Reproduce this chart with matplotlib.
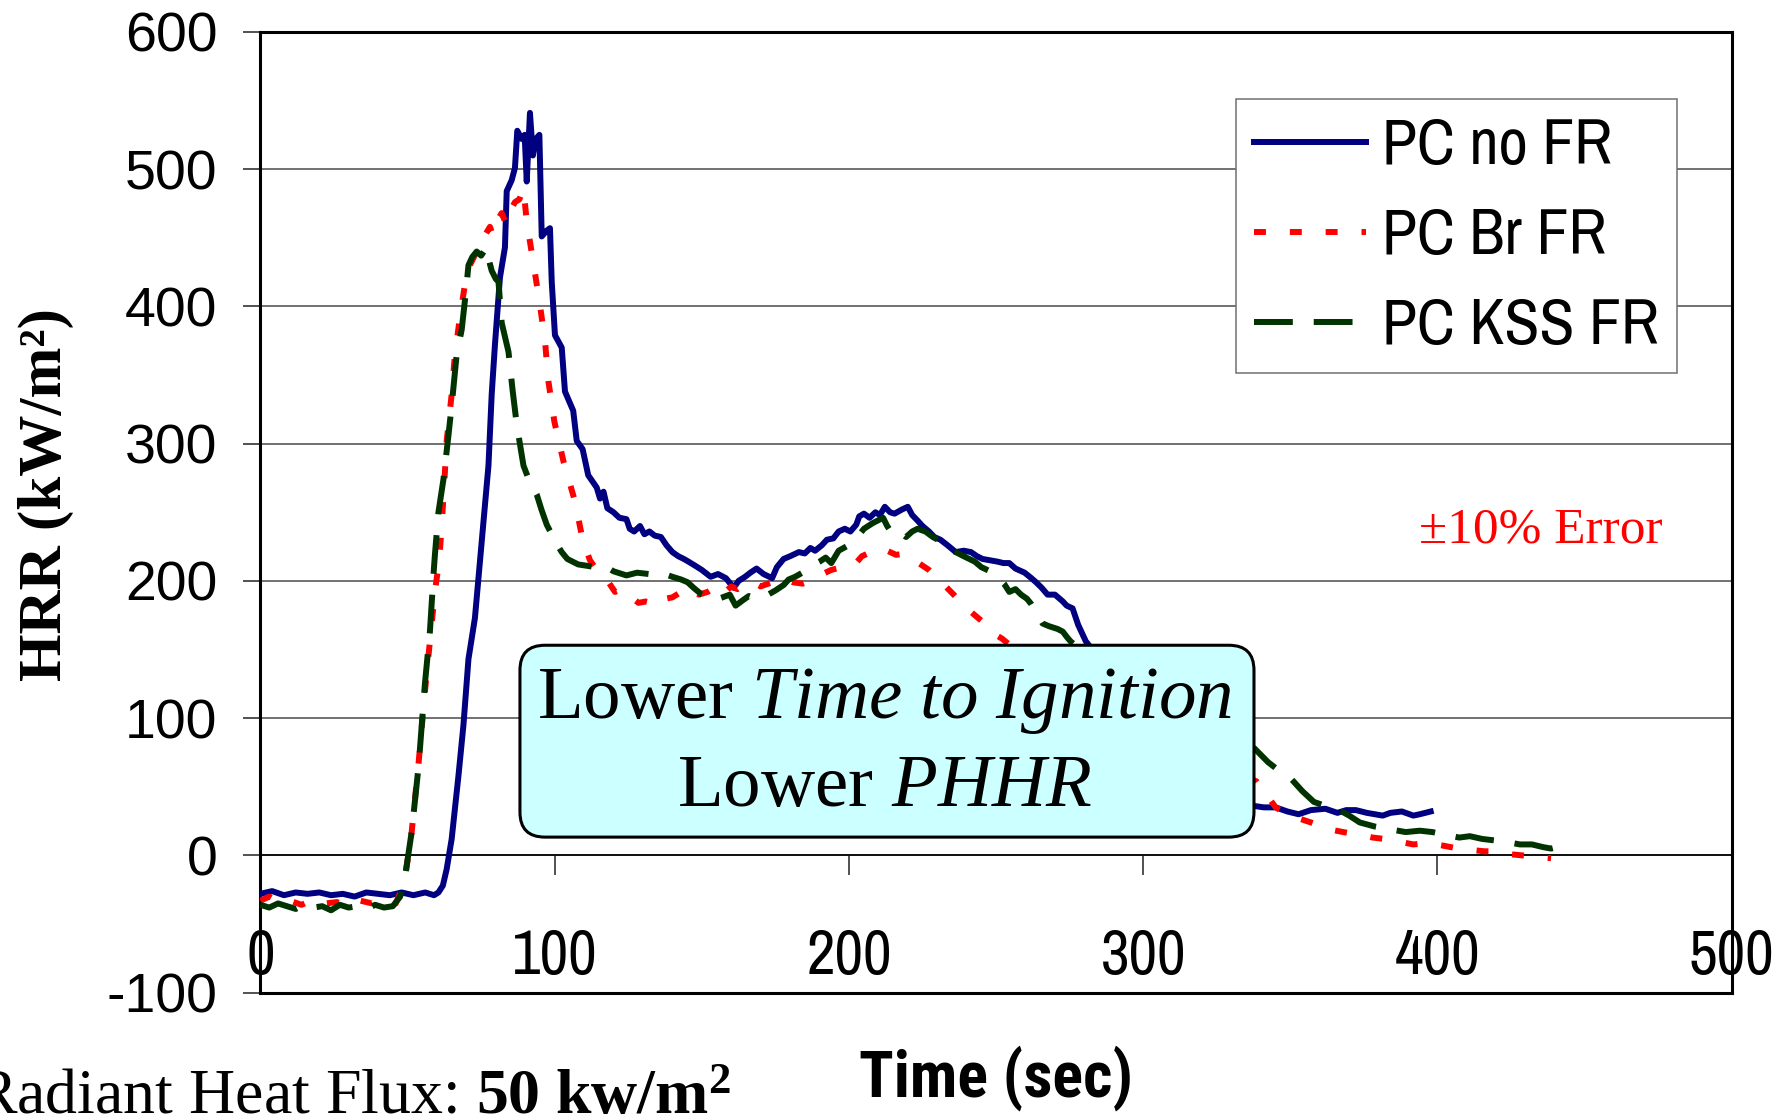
import matplotlib
matplotlib.use("Agg")
import matplotlib.pyplot as plt
from matplotlib import font_manager
from matplotlib.patches import FancyBboxPatch

# HRR curves (time in s, HRR in kW/m2)
nofr_t = [0, 4, 8, 12, 16, 20, 24, 28, 32, 36, 40, 44, 48, 52, 56, 59, 60.5, 62, 63.3, 65,
          67.3, 69, 70.7, 72.9, 74.6, 75.8, 77.5, 78.6, 79.7, 81.4, 83.1, 83.7, 85.4, 86.5, 87.3,
          88.8, 89.8, 90.5, 91.6, 92.6, 93.6, 94.8, 95.6, 97.2, 98.4, 99.0, 100.1, 102.4, 103.5,
          106.3, 107.5, 109.5, 111.4, 113, 114.3, 115.4, 116.6, 117.9, 120, 122, 124.4, 125.5,
          127, 129, 130.5, 132.2, 134, 136.1, 138, 140, 142, 143.9, 145.5, 147.8, 150, 153,
          155.5, 158.2, 160.8, 162.5, 164.7, 166.5, 168.6, 171, 173.9, 175.5, 177.8, 180, 183,
          185, 186.9, 188.5, 190.8, 192.5, 194.7, 196.5, 198.6, 200.5, 202.5, 203.5, 205.1,
          207, 209, 210.5, 212.2, 214, 215.5, 218, 220, 221.5, 223.3, 225, 227.2, 229, 231.1,
          233.5, 236.3, 239, 241.5, 243.5, 245.4, 248, 250.6, 252.5, 254.5, 256.6, 259.7, 262,
          263.6, 265.5, 267.5, 270, 272.7, 274, 276, 277.9, 279, 280.5, 290, 300, 310, 320, 330,
          337.8, 341, 345, 349, 352.8, 357, 361.9, 366, 369, 372.3, 376, 381.4, 384, 387.9,
          391.8, 394, 397.7]
nofr_v = [-28, -26, -29, -27, -28, -27, -29, -28, -30, -27, -28, -29, -27, -29, -27, -29, -27,
          -22, -10, 12, 58, 95, 143, 173, 214, 243, 284, 336, 372, 421, 443, 484, 492, 501, 528,
          522, 525, 491, 541, 510, 522, 525, 451, 455, 457, 418, 379, 370, 338, 324, 302, 296,
          277, 272, 268, 260, 265, 253, 250, 246, 245, 238, 236, 240, 234, 236, 233, 232, 226,
          221, 218, 216, 214, 211, 208, 203, 205, 202, 195, 200, 203, 206, 209, 205, 202, 210,
          216, 218, 221, 220, 224, 222, 226, 230, 231, 236, 238, 236, 241, 247, 249, 246, 250,
          248, 254, 250, 249, 252, 254, 248, 244, 240, 236, 232, 230, 226, 221, 222, 221, 218,
          216, 215, 214, 213, 213, 209, 206, 202, 199, 195, 190, 190, 185, 182, 180, 168, 163,
          156, 130, 102, 76, 56, 43, 36, 35, 35, 32, 30, 33, 34, 31, 33, 33, 31, 29, 31, 32, 29,
          30, 32]

br_t = [0, 3, 6, 10, 14, 18, 22, 26, 30, 34, 38, 42, 46, 48.9, 51.4, 53.7, 55.9, 57.6, 59.3,
        60.8, 61.6, 62.5, 63.3, 65, 66.1, 67.8, 69.5, 71.2, 74.6, 76.9, 78, 79, 80.3, 82, 83.5,
        85, 86.5, 88, 89.4, 90.5, 92.8, 94.8, 96.7, 97.9, 99.9, 103, 106.9, 109.5, 112, 115.3,
        118, 120.5, 123.1, 126, 128.5, 130.9, 133, 135, 137.4, 140, 143, 146.5, 149, 152, 155.6,
        158, 160, 162.1, 164.5, 167.3, 170, 173.9, 176, 178.4, 181, 184.3, 187, 190, 194, 197.5,
        201.2, 204.4, 207.5, 210.9, 213, 216, 219.4, 223, 227.2, 231, 235.6, 239, 242.8, 245,
        248, 252, 265, 280, 295, 310, 325, 338.5, 342, 345, 349, 352.8, 357, 363.2, 368, 373.6,
        378, 382, 387, 391.8, 397, 402.2, 407, 411.3, 416, 419.8, 424, 428.9, 433, 438.6]
br_v = [-33, -30, -34, -33, -36, -32, -35, -34, -37, -33, -35, -32, -35, -20, 17, 66, 119, 156,
        192, 216, 240, 272, 302, 336, 365, 392, 416, 430, 445, 454, 458, 452, 462, 468, 460, 470,
        476, 478, 486, 462, 431, 404, 375, 345, 316, 287, 258, 230, 215, 205, 200, 192, 194, 188,
        184, 185, 184, 182, 187, 188, 192, 195, 190, 192, 197, 192, 196, 194, 198, 199, 196, 199,
        198, 201, 199, 198, 200, 204, 208, 210, 210, 218, 221, 224, 222, 219, 220, 214, 208, 200,
        190, 182, 175, 171, 163, 158, 135, 115, 95, 80, 65, 54, 44, 35, 30, 27, 24, 19, 17, 15,
        13, 12, 10, 8, 9, 7, 5, 4, 3, 3, 1, 0, -1, -2]

kss_t = [0, 3, 6, 9, 12, 15, 18, 21, 24, 27, 30, 33, 36, 39, 42, 45, 47.5, 48.9, 51.4, 53.8,
         55.9, 57.6, 58.8, 59.3, 60.5, 62.2, 63.9, 65.1, 66.7, 68.4, 69.9, 70.7, 72, 73.5, 75,
         76.9, 77.5, 78.6, 80, 80.9, 82, 84.3, 85.7, 87.1, 89.4, 91, 93.9, 95.5, 97.3, 98.5, 99.5,
         100.4, 102.4, 104.3, 105.2, 108, 111, 114, 117, 120, 124.4, 128, 132, 136.1, 140, 143,
         145.2, 147.2, 150, 154.3, 157, 159.5, 161.5, 164, 166, 168.6, 170.5, 172.5, 175, 177.8,
         179.5, 181.7, 185, 188.2, 190, 192.1, 194, 196.5, 199.9, 202.5, 205.1, 208, 211.6, 213,
         214.8, 217, 219.4, 221.5, 223.3, 226, 228.5, 231.1, 233.5, 236.3, 239, 242.8, 245, 248,
         250.5, 252.7, 254.5, 256.6, 258.5, 260.5, 262, 265.8, 268, 270.9, 272.7, 274.1, 275.3,
         290, 305, 320, 330, 337.8, 342.4, 346, 350.2, 354, 358, 362, 365.8, 370, 373.6, 378.8,
         384, 389.2, 394, 398.3, 403, 407.4, 411, 415.2, 419, 423, 428, 432.1, 436, 438.6, 442.5]
kss_v = [-36, -38, -35, -37, -39, -36, -38, -37, -40, -36, -38, -37, -39, -36, -38, -37, -30,
         -19, 17, 66, 125, 163, 204, 219, 250, 274, 306, 330, 365, 383, 412, 430, 436, 440, 437,
         443, 435, 426, 420, 418, 388, 367, 339, 314, 284, 275, 263, 252, 241, 236, 229, 228, 221,
         216, 215, 212, 211, 210, 211, 207, 204, 206, 205, 206, 203, 201, 199, 195, 190, 186, 188,
         190, 182, 186, 189, 187, 188, 190, 193, 197, 201, 203, 207, 212, 214, 217, 213, 222, 226,
         231, 238, 242, 246, 240, 234, 236, 232, 236, 238, 236, 232, 229, 224, 221, 218, 214, 210,
         207, 203, 198, 192, 194, 190, 187, 183, 169, 167, 165, 163, 159, 156, 130, 112, 96, 86,
         78, 68, 62, 56, 47, 39, 36, 34, 29, 24, 21, 19, 17, 18, 17, 15, 13, 14, 12, 11, 10, 8, 8,
         6, 5, 7]

series_labels = ["PC no FR", "PC Br FR", "PC KSS FR"]
x_ticks = [0, 100, 200, 300, 400, 500]
y_ticks = [-100, 0, 100, 200, 300, 400, 500, 600]


def pick_font(prefs, bold=False):
    for name in prefs:
        for f in font_manager.fontManager.ttflist:
            if f.name == name and (not bold or f.weight in (700, "bold")):
                return name
    return "Liberation Sans"


narrow = pick_font(["Liberation Sans Narrow", "Archivo Narrow", "Roboto Condensed"])
narrow_bold = pick_font(["Liberation Sans Narrow", "Roboto Condensed", "Asap Condensed",
                         "Fira Sans Condensed"], bold=True)

plt.rcParams["axes.unicode_minus"] = False
plt.rcParams["mathtext.fontset"] = "custom"
plt.rcParams["mathtext.rm"] = "Liberation Serif"
plt.rcParams["mathtext.it"] = "Liberation Serif:italic"
plt.rcParams["mathtext.bf"] = "Liberation Serif:bold"

fig = plt.figure(figsize=(17.91, 11.2), dpi=100)
ax = fig.add_axes([0.1454, 0.1137, 0.8215, 0.8578])

ax.plot(nofr_t, nofr_v, color="#000080", lw=4.3, label=series_labels[0], zorder=3)
ax.plot(br_t, br_v, color="#ff0000", lw=4.3, dashes=(2.0, 4.0), label=series_labels[1], zorder=4)
ax.plot(kss_t, kss_v, color="#003300", lw=4.3, dashes=(6.5, 3.5), label=series_labels[2], zorder=5)

ax.set_xlim(0, 500)
ax.set_ylim(-100, 600)
ax.set_xticks(x_ticks)
ax.set_yticks(y_ticks)
ax.yaxis.grid(True, color="#666666", lw=1.3)
ax.set_axisbelow(True)

for s in ["left", "right", "top"]:
    ax.spines[s].set_linewidth(2.2)
    ax.spines[s].set_color("black")
ax.spines["bottom"].set_position(("data", 0))
ax.spines["bottom"].set_linewidth(1.2)
ax.axhline(-100, color="black", lw=2.2, clip_on=False, zorder=6)

ax.tick_params(axis="x", direction="out", length=14.4, width=1.2, color="#333333", pad=38)
ax.tick_params(axis="y", direction="out", length=12, width=1.2, color="#333333", pad=19)
for lab in ax.get_xticklabels():
    lab.set_fontfamily(narrow)
    lab.set_fontsize(45)
for lab in ax.get_yticklabels():
    lab.set_fontfamily("Liberation Sans")
    lab.set_fontsize(40)

leg = ax.legend(loc="upper right", bbox_to_anchor=(0.9626, 0.930), borderaxespad=0,
                prop=dict(family=narrow, size=46), handlelength=1.75, handletextpad=0.25,
                labelspacing=0.5, borderpad=0.28, fancybox=False, framealpha=1)
leg.get_frame().set_edgecolor("#707070")
leg.get_frame().set_linewidth(1.1)

box = FancyBboxPatch((0.1764, 0.1619), 0.6753 - 0.1764, 0.3616 - 0.1619,
                     boxstyle="round,pad=0,rounding_size=0.017", mutation_aspect=1.531,
                     transform=ax.transAxes, fc="#ccffff", ec="black", lw=2.2, zorder=7)
ax.add_patch(box)
ax.text(0.424, 0.2589, "Lower $\\mathit{Time\\ to\\ Ignition}$\nLower $\\mathit{PHHR}$",
        transform=ax.transAxes, ha="center", va="center", multialignment="center",
        family="Liberation Serif", size=54, linespacing=1.35, zorder=8)

ax.text(0.7872, 0.4816, "±10% Error", transform=ax.transAxes, color="red",
        family="Liberation Serif", size=37, ha="left", va="center")

fig.text(996 / 1791, 1 - 1078 / 1120, "Time (sec)", ha="center", va="center",
         family=narrow_bold, weight="bold", size=46)
fig.text(46 / 1791, 1 - 495 / 1120, "HRR (kW/m²)", rotation=90, ha="center", va="center",
         family="Liberation Serif", weight="bold", size=44)
fig.text(731 / 1791, 1 - 1114 / 1120, "Radiant Heat Flux: $\\mathbf{50\\ kw/m^2}$",
         ha="right", va="baseline", family="Liberation Serif", size=46)

fig.savefig("out.png", dpi=100)
